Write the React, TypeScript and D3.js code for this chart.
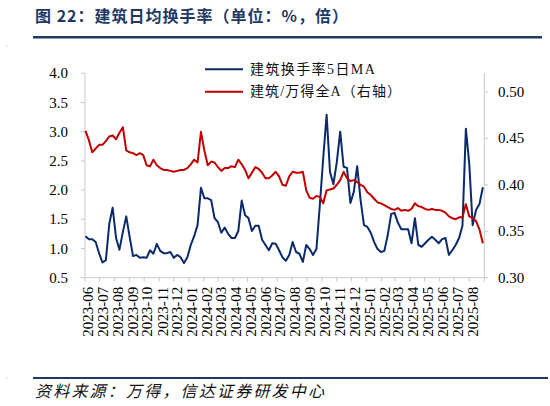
import React from 'react';
import * as d3 from 'd3';

// weekly observations (Fridays) starting here
const START_DATE = '2023-06-02';

// 建筑换手率5日MA (%), left axis
const turnover5dMA = [
  1.21, 1.16, 1.16, 1.11, 0.92, 0.76, 0.80, 1.42, 1.70, 1.18,
  0.98, 1.28, 1.55, 1.20, 0.87, 0.89, 0.84, 0.85, 0.84, 0.97,
  0.91, 1.08, 0.96, 0.92, 0.92, 0.94, 0.84, 0.89, 0.85, 0.75,
  0.85, 1.06, 1.21, 1.40, 2.04, 1.86, 1.86, 1.83, 1.52, 1.45,
  1.27, 1.36, 1.25, 1.18, 1.18, 1.30, 1.82, 1.57, 1.52, 1.30,
  1.39, 1.39, 1.15, 1.06, 0.97, 1.09, 1.08, 0.97, 0.85, 0.79,
  0.89, 1.11, 0.94, 0.91, 0.77, 1.06, 0.99, 0.89, 0.99, 1.74,
  2.55, 3.29, 2.31, 2.10, 2.48, 3.00, 2.40, 2.38, 1.78, 1.97,
  2.41, 1.83, 1.40, 1.37, 1.27, 1.11, 0.99, 0.94, 0.96, 1.23,
  1.59, 1.61, 1.44, 1.33, 1.33, 1.33, 1.09, 1.52, 1.06, 1.03,
  1.09, 1.15, 1.20, 1.15, 1.09, 1.16, 1.18, 0.89, 0.97, 1.06,
  1.18, 1.39, 3.05, 2.45, 1.40, 1.66, 1.76, 2.05,
];

// 建筑/万得全A (倍), right axis
const ratioToWindA = [
  0.458, 0.448, 0.435, 0.439, 0.443, 0.443, 0.447, 0.452, 0.453, 0.449,
  0.456, 0.462, 0.437, 0.435, 0.434, 0.432, 0.434, 0.432, 0.421, 0.420,
  0.427, 0.421, 0.418, 0.416, 0.416, 0.415, 0.414, 0.415, 0.416, 0.416,
  0.418, 0.422, 0.427, 0.424, 0.457, 0.437, 0.421, 0.425, 0.424, 0.419,
  0.415, 0.418, 0.418, 0.420, 0.419, 0.427, 0.422, 0.416, 0.407, 0.413,
  0.419, 0.417, 0.413, 0.407, 0.407, 0.410, 0.414, 0.409, 0.400, 0.399,
  0.409, 0.414, 0.413, 0.413, 0.414, 0.394, 0.386, 0.385, 0.388, 0.387,
  0.380, 0.394, 0.395, 0.396, 0.400, 0.405, 0.414, 0.407, 0.404, 0.405,
  0.403, 0.400, 0.398, 0.392, 0.389, 0.385, 0.381, 0.380, 0.378, 0.376,
  0.374, 0.373, 0.375, 0.372, 0.373, 0.372, 0.374, 0.380, 0.377, 0.376,
  0.374, 0.373, 0.374, 0.373, 0.373, 0.372, 0.370, 0.366, 0.364, 0.363,
  0.365, 0.365, 0.379, 0.366, 0.364, 0.361, 0.352, 0.337,
];

const leftTicks = [0.5, 1.0, 1.5, 2.0, 2.5, 3.0, 3.5, 4.0];
const rightTicks = [0.30, 0.35, 0.40, 0.45, 0.50];
const monthLabels = [
  '2023-06', '2023-07', '2023-08', '2023-09', '2023-10', '2023-11', '2023-12',
  '2024-01', '2024-02', '2024-03', '2024-04', '2024-05', '2024-06', '2024-07',
  '2024-08', '2024-09', '2024-10', '2024-11', '2024-12', '2025-01', '2025-02',
  '2025-03', '2025-04', '2025-05', '2025-06', '2025-07', '2025-08',
];
const seriesNames = ['建筑换手率5日MA', '建筑/万得全A（右轴）'];
const TITLE = '图 22：建筑日均换手率（单位：%，倍）';
const SOURCE = '资料来源：万得，信达证券研发中心';

const BLUE = '#0b2a6b';
const RED = '#c00000';
const AXIS = '#c9c9c9';
const SERIF = '"Liberation Serif", "Times New Roman", serif';
const CJK = '"Liberation Serif", "Noto Sans CJK SC", sans-serif';

export default function App() {
  const parseDay = d3.timeParse('%Y-%m-%d');
  const parseMonth = d3.timeParse('%Y-%m');
  const start = parseDay(START_DATE) as Date;
  const dates = turnover5dMA.map((_, i) => d3.timeDay.offset(start, 7 * i));

  const L = 85, R = 484.3, T = 73.3, B = 277.7;
  const x = d3.scaleTime()
    .domain([new Date(2023, 5, 1), new Date(2025, 8, 1)])
    .range([L, R]);
  const yL = d3.scaleLinear().domain([0.5, 4.0]).range([B, T]);
  const yR = d3.scaleLinear().domain([0.30, 0.52]).range([B, T]);

  const lineL = d3.line<number>().x((_, i) => x(dates[i])).y((d) => yL(d));
  const lineR = d3.line<number>().x((_, i) => x(dates[i])).y((d) => yR(d));

  const monthTicks = d3.timeMonth.range(new Date(2023, 5, 1), new Date(2025, 8, 2));

  return (
    <svg width={550} height={406} style={{ position: 'absolute', left: 0, top: 0, background: '#fff' }}>
      {/* title */}
      <text x={35} y={22} fontFamily='"Noto Sans CJK SC", sans-serif' fontWeight="bold" fontSize={16}
        letterSpacing={1} fill="#1f3864">{TITLE}</text>
      <rect x={33} y={36} width={509} height={2.5} fill="#203864" />
      <rect x={6} y={45} width={1} height={1} fill="#bbb" />

      {/* axes */}
      <line x1={L} x2={L} y1={T} y2={B} stroke={AXIS} />
      <line x1={R} x2={R} y1={T} y2={B} stroke={AXIS} />
      <line x1={L} x2={R} y1={B} y2={B} stroke={AXIS} />

      {leftTicks.map((t) => (
        <g key={'l' + t}>
          <line x1={L - 4} x2={L} y1={yL(t)} y2={yL(t)} stroke={AXIS} />
          <text x={68} y={yL(t)} textAnchor="end" dominantBaseline="central"
            fontFamily={SERIF} fontSize={15} fill="#000">{t.toFixed(1)}</text>
        </g>
      ))}
      {rightTicks.map((t) => (
        <g key={'r' + t}>
          <line x1={R} x2={R + 4} y1={yR(t)} y2={yR(t)} stroke={AXIS} />
          <text x={498} y={yR(t)} textAnchor="start" dominantBaseline="central"
            fontFamily={SERIF} fontSize={15} fill="#000">{t.toFixed(2)}</text>
        </g>
      ))}
      {monthTicks.map((m, i) => (
        <line key={'t' + i} x1={x(m)} x2={x(m)} y1={B} y2={B + 4} stroke={AXIS} />
      ))}
      {monthLabels.map((lab) => {
        const px = x(parseMonth(lab) as Date) + 3.3;
        const py = 286.7;
        return (
          <text key={lab} x={px} y={py} transform={`rotate(-90 ${px} ${py})`}
            textAnchor="end" dominantBaseline="central"
            fontFamily={SERIF} fontSize={15} fill="#000">{lab}</text>
        );
      })}

      {/* series */}
      <path d={lineL(turnover5dMA) || ''} fill="none" stroke={BLUE} strokeWidth={2} strokeLinejoin="round" />
      <path d={lineR(ratioToWindA) || ''} fill="none" stroke={RED} strokeWidth={2} strokeLinejoin="round" />

      {/* legend */}
      <line x1={205} x2={243} y1={69.3} y2={69.3} stroke={BLUE} strokeWidth={2} />
      <text x={250} y={69.3} dominantBaseline="central" fontFamily={CJK} fontSize={14}
        letterSpacing={1.4} fill="#111">{seriesNames[0]}</text>
      <line x1={205} x2={243} y1={91.7} y2={91.7} stroke={RED} strokeWidth={2} />
      <text x={250} y={91.7} dominantBaseline="central" fontFamily={CJK} fontSize={14}
        letterSpacing={1.1} fill="#111">{seriesNames[1]}</text>

      {/* source */}
      <rect x={33} y={377} width={515} height={2} fill="#203864" />
      <rect x={6} y={378} width={1} height={1} fill="#bbb" />
      <text x={35} y={390} dominantBaseline="central" fontFamily='"Noto Sans CJK SC", sans-serif'
        fontStyle="italic" fontSize={16} letterSpacing={2.2} fill="#111">{SOURCE}</text>
    </svg>
  );
}
